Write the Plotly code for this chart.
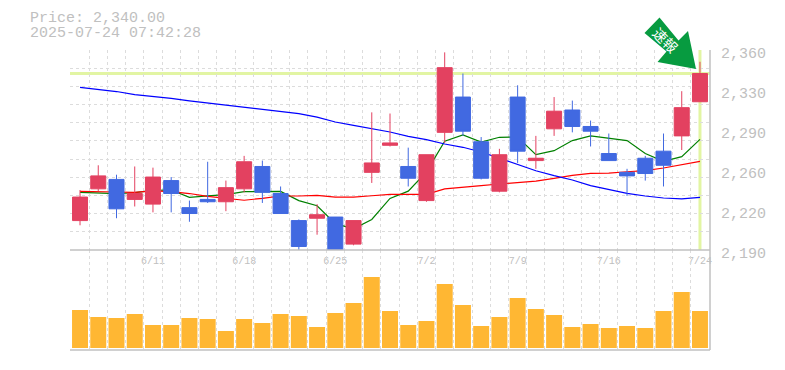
import plotly.graph_objects as go

# Chart values
dates = ["6/11", "6/18", "6/25", "7/2", "7/9", "7/16", "7/24"]
date_index = [4, 9, 14, 19, 24, 29, 34]
open_ = [2215,2242,2250,2233,2229,2249,2226,2233,2231,2242,2261,2238,2215,2217,2218,2195,2256,2279,2261,2232,2290,2320,2282,2240,2320,2266,2293,2309,2295,2272,2256,2268,2274,2287,2316]
high = [2241,2262,2254,2261,2260,2252,2232,2265,2249,2270,2266,2244,2216,2229,2218,2215,2307,2306,2277,2271,2358,2340,2286,2276,2330,2287,2320,2317,2300,2289,2259,2270,2289,2325,2350]
low = [2211,2240,2217,2227,2222,2222,2214,2230,2223,2239,2230,2221,2189,2203,2189,2194,2247,2278,2244,2231,2281,2287,2250,2239,2264,2259,2287,2290,2278,2266,2236,2249,2244,2275,2316]
close = [2235,2253,2225,2238,2252,2238,2221,2231,2243,2265,2239,2221,2193,2220,2189,2215,2264,2281,2251,2271,2345,2291,2251,2271,2274,2268,2308,2295,2291,2266,2253,2255,2262,2311,2340]
ma_short = [2239,2238.5,2238,2238.7,2240.6,2241,2234.8,2236,2237,2239.6,2239.8,2239.8,2232,2227.6,2212.4,2208,2216,2233.8,2240,2256.4,2282.4,2287.8,2281.8,2285.8,2286,2271,2274.4,2283,2287,2285,2283,2272,2265.4,2269.4,2284]
ma_mid = [2239.9,2239.9,2239.3,2239,2240.2,2239.7,2238,2235.6,2234.2,2232.3,2233.9,2235.9,2235.9,2236.5,2235,2235,2236.1,2237.3,2237.3,2237.3,2241.9,2243.6,2244.7,2246.1,2247.2,2248.6,2250.9,2253.5,2255.2,2255.4,2256.5,2257.4,2259.7,2262.3,2265.4]
ma_long = [2328.3,2326.3,2324.7,2322,2320.5,2318.8,2316.7,2315,2313.3,2311.3,2309.4,2308.2,2305.9,2303,2298.8,2296,2293.4,2290.3,2286.6,2283.8,2280.1,2277.3,2273.3,2268.2,2262.8,2257.4,2253.2,2249.5,2244.7,2241.6,2238.2,2235.9,2234.2,2233.4,2234.8]
volume = [38,31,30,34,23,23,30,29,17,29,25,34,32,21,35,45,71,37,23,27,64,43,22,31,50,39,33,21,24,20,22,20,37,56,37]
y_tick_values = [2360, 2326, 2292, 2258, 2224, 2190]
y_tick_labels = ["2,360", "2,330", "2,290", "2,260", "2,220", "2,190"]
price_now = 2340
title_lines = ["Price: 2,340.00", "2025-07-24 07:42:28"]
badge_text = "\u901f\u5831"

GREY = "#c0c0c0"
GRID = "#dcdcdc"
RED = "#e34160"
BLUE = "#4169e1"
HILITE = "#e2f5a3"
MONO = "Liberation Mono"
W, H = 785.0, 370.0

n = len(close)
xs = list(range(n))
grid_x = [i - 0.5 for i in range(n + 1)]
grid_y = [2360 - 170 * k / 11 for k in range(12)]
x_range = [-0.55, 34.55]

fig = go.Figure()
fig.add_trace(go.Candlestick(
    x=xs, open=open_, high=high, low=low, close=close,
    increasing=dict(line=dict(color=RED, width=1), fillcolor=RED),
    decreasing=dict(line=dict(color=BLUE, width=1), fillcolor=BLUE),
    whiskerwidth=0, xaxis="x", yaxis="y", showlegend=False, zorder=1,
))
for vals, col in ((ma_short, "#008000"), (ma_mid, "#ff0000"), (ma_long, "#0000ff")):
    fig.add_trace(go.Scatter(x=xs, y=vals, mode="lines", line=dict(color=col, width=1.2),
                             xaxis="x", yaxis="y", showlegend=False, zorder=0))
fig.add_trace(go.Bar(x=xs, y=volume, marker=dict(color="#ffb733", line=dict(width=0)),
                     width=0.877, xaxis="x2", yaxis="y2", showlegend=False))

# arrow badge, on an overlay axis that spans the whole canvas
badge_x = [659.5, 644.5, 666.5, 657.5, 696, 688, 678.5, 659.5]
badge_y = [17.5, 33, 51.5, 62, 69, 31, 40.5, 17.5]
fig.add_trace(go.Scatter(x=badge_x, y=badge_y, mode="lines", fill="toself", fillcolor="#079b40",
                         line=dict(width=0, color="#079b40"), xaxis="x3", yaxis="y3",
                         showlegend=False))

# highlight of the current price and the last session, beneath the marks
fig.add_shape(type="line", xref="x", yref="y", layer="below", x0=x_range[0], x1=x_range[1],
              y0=price_now, y1=price_now, line=dict(color=HILITE, width=3))
fig.add_shape(type="line", xref="x", yref="y", layer="below", x0=xs[-1], x1=xs[-1],
              y0=2190, y1=2360, line=dict(color=HILITE, width=3))

# frame lines of the two panels
for x0, y0, x1, y1 in ((70, 250, 710, 250), (70, 350, 710, 350), (710, 50, 710, 350)):
    fig.add_shape(type="line", xref="paper", yref="paper", layer="above",
                  x0=x0 / W, x1=x1 / W, y0=1 - y0 / H, y1=1 - y1 / H,
                  line=dict(color=GREY, width=1.5))

fig.add_annotation(xref="paper", yref="paper", x=666 / W, y=1 - 39.5 / H, text=badge_text,
                   textangle=45, showarrow=False, xanchor="center", yanchor="middle",
                   font=dict(family="Noto Sans CJK JP", size=14, color="white"))

for i, line in enumerate(title_lines):
    fig.add_annotation(xref="paper", yref="paper", xanchor="left", yanchor="middle",
                       x=28 / W, y=1 - (18.5 + 15 * i) / H, text=line, showarrow=False,
                       font=dict(family=MONO, size=15, color=GREY))
for v, t in zip(y_tick_values, y_tick_labels):
    fig.add_annotation(xref="paper", yref="y", xanchor="left", yanchor="middle",
                       x=718.5 / W, y=v, yshift=-4.5, text=t, showarrow=False,
                       font=dict(family=MONO, size=15, color=GREY))

grid_common = dict(showgrid=True, griddash="3px,3px", gridcolor=GRID, gridwidth=1)
x_dom = [70 / W, 710 / W]
fig.update_layout(
    width=785, height=370, autosize=False,
    margin=dict(l=0, r=0, t=0, b=0, pad=0, autoexpand=False),
    paper_bgcolor="white", plot_bgcolor="rgba(0,0,0,0)",
    boxgap=0.177, boxgroupgap=0, barmode="overlay",
    hovermode=False,
    xaxis=dict(domain=x_dom, range=x_range, anchor="y", tickmode="array",
               tickvals=date_index, ticktext=dates, ticks="", showgrid=False,
               minor=dict(tickvals=grid_x, **grid_common),
               tickfont=dict(family=MONO, size=10, color=GREY), ticklabelstandoff=3,
               showline=False, rangeslider=dict(visible=False), zeroline=False),
    xaxis2=dict(domain=x_dom, range=x_range, anchor="y2", matches="x", tickmode="array",
                tickvals=[], showticklabels=False, showgrid=False,
                minor=dict(tickvals=grid_x, **grid_common),
                showline=False, zeroline=False),
    xaxis3=dict(domain=[0, 1], range=[0, W], anchor="y3", visible=False),
    yaxis=dict(domain=[120 / H, 320 / H], range=[2190, 2360], anchor="x", side="right",
               tickmode="array", tickvals=[], showticklabels=False, showgrid=False,
               minor=dict(tickvals=grid_y, **grid_common),
               showline=False, zeroline=False),
    yaxis2=dict(domain=[20 / H, 120 / H], range=[-2, 98], anchor="x2", side="right",
                tickmode="array", tickvals=[], showticklabels=False, showgrid=False,
                showline=False, zeroline=False),
    yaxis3=dict(domain=[0, 1], range=[H, 0], anchor="x3", visible=False),
)

fig.write_html("out.html", config=dict(displayModeBar=False),
               post_script="document.body.style.margin='0';")
